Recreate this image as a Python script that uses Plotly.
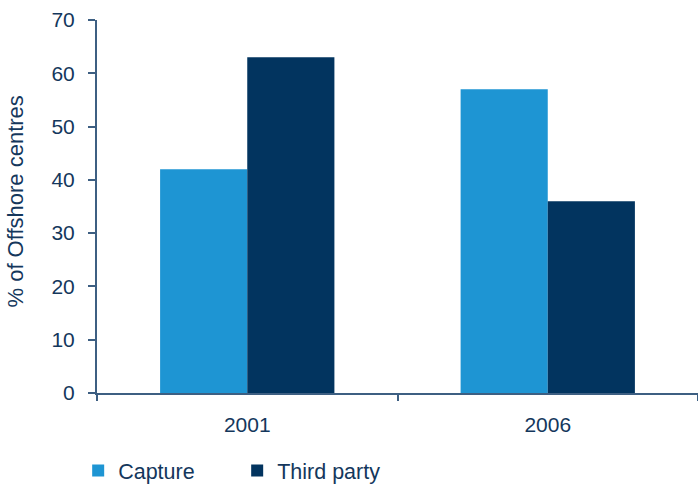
import plotly.graph_objects as go

# Share of offshore centres by ownership model
years = ["2001", "2006"]
capture = [42, 57]
third_party = [63, 36]

text_color = "#14375c"
axis_color = "#3d5f82"
font_family = "Liberation Sans, Arial, Helvetica, sans-serif"

fig = go.Figure()
fig.add_trace(go.Bar(name="Capture", x=years, y=capture, marker_color="#1e95d3",
                     marker_line_width=0))
fig.add_trace(go.Bar(name="Third party", x=years, y=third_party, marker_color="#02345f",
                     marker_line_width=0))

fig.update_layout(
    width=698, height=486,
    margin=dict(l=97, r=0, t=20, b=93),
    barmode="group", bargap=0.42, bargroupgap=0,
    plot_bgcolor="white", paper_bgcolor="white",
    font=dict(family=font_family, size=21, color=text_color),
    showlegend=True,
    legend=dict(
        orientation="h", xref="container", yref="container",
        x=0.112, y=0.074, xanchor="left", yanchor="top",
        font=dict(size=21.5, color=text_color),
        entrywidth=114, entrywidthmode="pixels",
        itemsizing="constant",
    ),
)

# Rotated y-axis title placed beside the tick labels
fig.add_annotation(
    text="% of Offshore centres", textangle=-90,
    xref="paper", yref="paper", x=-0.135, y=0.513,
    xanchor="center", yanchor="middle", showarrow=False,
    font=dict(size=22, color=text_color),
)

fig.update_xaxes(
    showline=True, linecolor=axis_color, linewidth=2,
    ticks="outside", tickson="boundaries", ticklen=6, tickcolor=axis_color, tickwidth=1.5,
    showgrid=False, tickfont=dict(size=21, color=text_color),
    ticklabelstandoff=12,
)
fig.update_yaxes(
    range=[0, 70], dtick=10,
    showline=True, linecolor=axis_color, linewidth=2,
    ticks="outside", ticklen=7, tickcolor=axis_color, tickwidth=1.5,
    showgrid=False, zeroline=False,
    tickfont=dict(size=21, color=text_color),
    ticklabelstandoff=9,
)

fig.write_html("out.html")
